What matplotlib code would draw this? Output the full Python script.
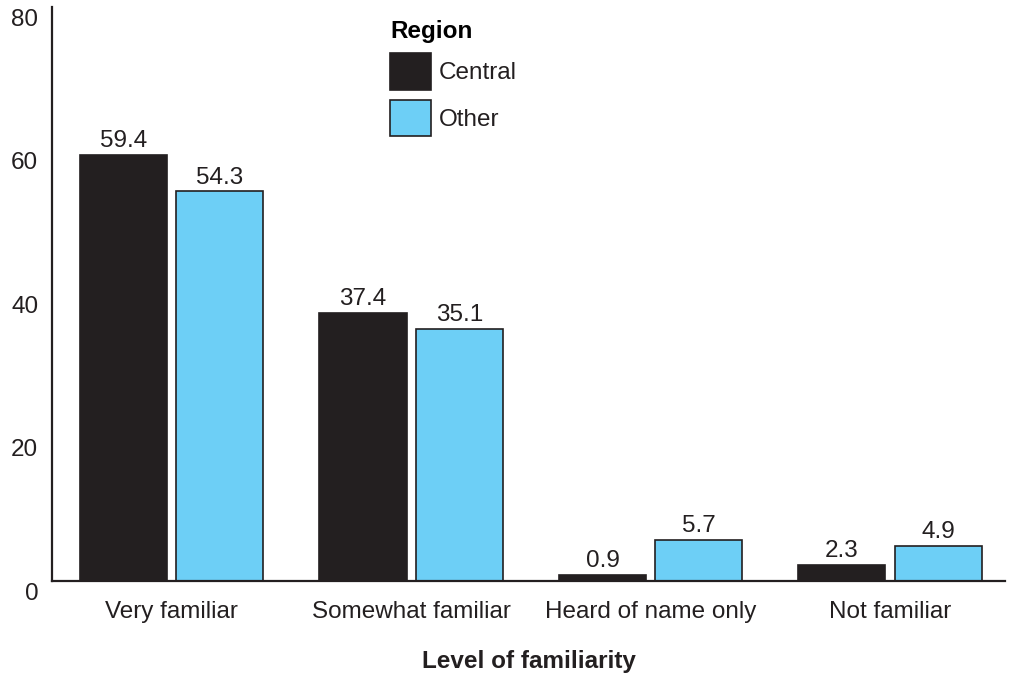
import matplotlib
matplotlib.use("Agg")
import matplotlib.pyplot as plt
import matplotlib.transforms as mtransforms
import numpy as np

plt.rcParams['font.family'] = ['Liberation Sans', 'DejaVu Sans']

# data
categories = ["Very familiar", "Somewhat familiar", "Heard of name only", "Not familiar"]
central = [59.4, 37.4, 0.9, 2.3]
other = [54.3, 35.1, 5.7, 4.9]
yticks = [0, 20, 40, 60, 80]

dark = "#231f20"
blue = "#6dcff6"
fs = 17.5

fig = plt.figure(figsize=(10.1, 6.75), dpi=100)
ax = fig.add_axes([0.0515, 0.139, 0.9435, 0.8506])

x = np.arange(len(categories))
w = 0.364
off = 0.201
b1 = ax.bar(x - off, central, w, color=dark, edgecolor=dark, linewidth=1.2, label="Central")
b2 = ax.bar(x + off, other, w, color=blue, edgecolor=dark, linewidth=1.2, label="Other")

for bars, vals in ((b1, central), (b2, other)):
    for rect, v in zip(bars, vals):
        ax.annotate(f"{v:.1f}", (rect.get_x() + rect.get_width() / 2, rect.get_height()),
                    xytext=(0, 2), textcoords="offset points",
                    ha="center", va="bottom", fontsize=fs, color=dark)

ax.set_xlim(-0.5, 3.48)
ax.set_ylim(0, 80)
ax.set_yticks(yticks)
ax.set_xticks(x)
ax.set_xticklabels(categories)
ax.tick_params(axis="both", length=0, labelsize=fs, colors=dark)
ax.tick_params(axis="y", pad=10)
ax.tick_params(axis="x", pad=14.5)

# y labels sit a little below their grid value
shift = mtransforms.ScaledTranslation(0, -10 / 100, fig.dpi_scale_trans)
for lab in ax.get_yticklabels():
    lab.set_transform(lab.get_transform() + shift)

for s in ("top", "right"):
    ax.spines[s].set_visible(False)
for s in ("left", "bottom"):
    ax.spines[s].set_linewidth(1.6)
    ax.spines[s].set_color(dark)

ax.set_xlabel("Level of familiarity", fontsize=fs, fontweight="bold", color=dark, labelpad=19.5)

leg = ax.legend(title="Region", loc="upper left", bbox_to_anchor=(378 / 1010, 1 - 8 / 675),
                bbox_transform=fig.transFigure, frameon=False, fontsize=fs,
                title_fontproperties={"weight": "bold", "size": fs},
                handlelength=1.69, handleheight=1.96, handletextpad=0.3,
                labelspacing=0.4, borderpad=0, alignment="left")
for t in leg.get_texts():
    t.set_color(dark)

fig.savefig("out.png", dpi=100)
